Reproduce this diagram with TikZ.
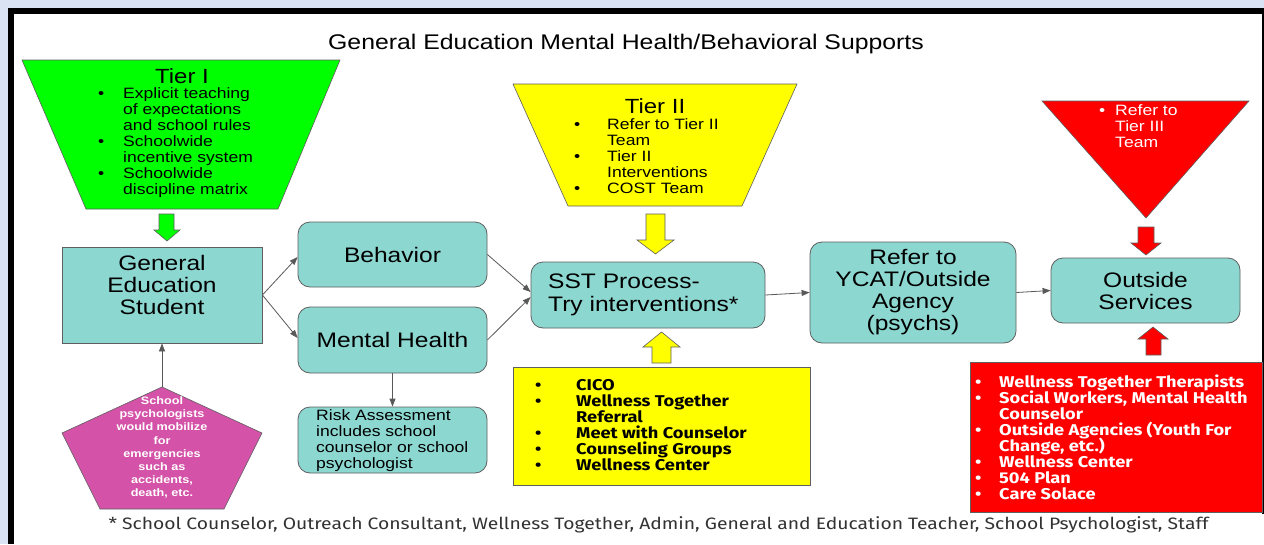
\documentclass[tikz,border=0pt]{standalone}
\usepackage{fontspec}
\setmainfont{Liberation Sans}[FakeStretch=1.17]
\newfontfamily\fira{Fira Sans}[FakeStretch=1.17]
\usetikzlibrary{arrows.meta}
\definecolor{bgc}{RGB}{218,227,243}
\definecolor{tealc}{RGB}{141,215,209}
\definecolor{bordc}{RGB}{95,95,95}
\definecolor{connc}{RGB}{89,89,89}
\definecolor{greenc}{RGB}{0,255,0}
\definecolor{yellowc}{RGB}{255,255,0}
\definecolor{redc}{RGB}{255,0,0}
\definecolor{magc}{RGB}{212,82,168}
\definecolor{footc}{RGB}{50,50,50}
\newcommand\bitem[2]{\makebox[#1][l]{\textbullet}#2}
\newcommand\bcont[2]{\hspace*{#1}#2}
\newcommand\tightls{\lineskiplimit=-6pt\relax}
\begin{document}
\begin{tikzpicture}[x=1pt,y=-1pt,
  box/.style={draw=bordc, line width=0.8pt, fill=tealc, rounded corners=12pt, inner sep=0pt, align=center, font=\fontsize{21}{22}\selectfont},
  big/.style={font=\fontsize{21}{22}\selectfont, inner sep=0pt},
  small/.style={font=\fontsize{15}{16}\selectfont\tightls, inner sep=0pt},
  shapeb/.style={draw=bordc, line width=0.6pt},
  conn/.style={draw=connc, line width=0.8pt, -{Triangle[length=8pt,width=6pt]}},
  lst/.style={font=\fira\bfseries\fontsize{15.6}{16}\selectfont\tightls, inner sep=0pt, align=left, anchor=west},
  listbox/.style={draw=bordc, line width=0.8pt, inner sep=0pt}
]
\useasboundingbox (0,0) rectangle (1264,544);
% frame
\fill[bgc] (0,0) rectangle (1264,544);
\fill[black] (8,8) rectangle (1264,544);
\fill[white] (14,14) rectangle (1262,544);
\fill[white] (1262,514) rectangle (1264,544);

% title
\node[big, font=\fontsize{21.2}{22}\selectfont] (title) at (626,44) {General Education Mental Health/Behavioral Supports};

% Tier I trapezoid
\draw[shapeb, fill=greenc] (22,60) -- (340,60) -- (278,209) -- (86,209) -- cycle;
\node[big, font=\fontsize{20.5}{22}\selectfont] (t1title) at (182,76) {Tier I};
\node[small, align=left, anchor=west] (t1list) at (98,143) {%
\bitem{25pt}{Explicit teaching}\\
\bcont{25pt}{of expectations}\\
\bcont{25pt}{and school rules}\\
\bitem{25pt}{Schoolwide}\\
\bcont{25pt}{incentive system}\\
\bitem{25pt}{Schoolwide}\\
\bcont{25pt}{discipline matrix}};

% green arrow
\draw[shapeb, fill=greenc] (159,214) -- (174,214) -- (174,230) -- (180,230) -- (167,241) -- (154,230) -- (159,230) -- cycle;

% General Education Student
\node[box, rounded corners=0pt, minimum width=200pt, minimum height=96pt] (ges) at (162,295) {};
\node[big, align=center] (gest) at (162,284.5) {General\\Education\\Student};

% pentagon
\draw[shapeb, fill=magc] (162,387) -- (262,433) -- (224,509) -- (100,509) -- (62,433) -- cycle;
\coordinate (pent) at (162,387);
\node[inner sep=0pt, align=center, text=white, font=\bfseries\fontsize{10.8}{13.1}\selectfont] (pentt) at (162,447.5)
 {School\\psychologists\\would mobilize\\for\\emergencies\\such as\\accidents,\\death, etc.};

% Behavior / Mental Health / Risk
\node[box, minimum width=189pt, minimum height=65pt] (beh) at (392.5,254.5) {Behavior};
\node[box, minimum width=189pt, minimum height=66pt] (mh) at (392.5,340) {Mental Health};
\node[box, minimum width=189pt, minimum height=66pt] (risk) at (392.5,440) {};
\node[small, align=left, anchor=west] (riskt) at (316,440.5) {Risk Assessment\\includes school\\counselor or school\\psychologist};

% Tier II trapezoid
\draw[shapeb, fill=yellowc] (513,84) -- (797,84) -- (742,206) -- (568,206) -- cycle;
\node[big, font=\fontsize{20.5}{22}\selectfont] (t2title) at (655,106) {Tier II};
\node[small, align=left, anchor=west] (t2list) at (574,156.5) {%
\bitem{33pt}{Refer to Tier II}\\
\bcont{33pt}{Team}\\
\bitem{33pt}{Tier II}\\
\bcont{33pt}{Interventions}\\
\bitem{33pt}{COST Team}};

% yellow arrows
\draw[shapeb, fill=yellowc] (646,214) -- (665,214) -- (665,240) -- (674,240) -- (655.5,254) -- (637,240) -- (646,240) -- cycle;
\draw[shapeb, fill=yellowc] (652,363) -- (671,363) -- (671,347) -- (680,347) -- (661.5,332) -- (643,347) -- (652,347) -- cycle;

% SST
\node[box, minimum width=234pt, minimum height=66pt] (sst) at (648,295) {};
\node[big, align=left, anchor=west, font=\fontsize{21}{23}\selectfont] (sstt) at (548,295) {SST Process-\\Try interventions*};

% yellow list
\node[listbox, fill=yellowc, minimum width=297pt, minimum height=118pt] (ylist) at (661.5,426) {};
\node[lst] (ylistt) at (535,425.5) {%
\bitem{41pt}{CICO}\\
\bitem{41pt}{Wellness Together}\\
\bcont{41pt}{Referral}\\
\bitem{41pt}{Meet with Counselor}\\
\bitem{41pt}{Counseling Groups}\\
\bitem{41pt}{Wellness Center}};

% YCAT
\node[box, minimum width=206pt, minimum height=101pt] (ycat) at (913,292.5) {Refer to\\YCAT/Outside\\Agency\\(psychs)};

% Tier III triangle
\draw[shapeb, fill=redc] (1042,101) -- (1249,101) -- (1146,218) -- cycle;
\node[small, align=left, anchor=west, text=white] (t3list) at (1099,126.5) {%
\bitem{16pt}{Refer to}\\
\bcont{16pt}{Tier III}\\
\bcont{16pt}{Team}};

% red arrows
\draw[shapeb, fill=redc] (1138,227) -- (1154,227) -- (1154,243) -- (1161,243) -- (1146,255) -- (1131,243) -- (1138,243) -- cycle;
\draw[shapeb, fill=redc] (1146,355) -- (1161,355) -- (1161,339) -- (1168,339) -- (1153,327) -- (1138,339) -- (1146,339) -- cycle;

% Outside services
\node[box, minimum width=189pt, minimum height=65pt] (out) at (1145.5,290.5) {Outside\\Services};

% red list
\node[listbox, fill=redc, minimum width=292pt, minimum height=150pt] (rlist) at (1116,437) {};
\node[lst, text=white] (rlistt) at (975,437.5) {%
\bitem{24pt}{Wellness Together Therapists}\\
\bitem{24pt}{Social Workers, Mental Health}\\
\bcont{24pt}{Counselor}\\
\bitem{24pt}{Outside Agencies (Youth For}\\
\bcont{24pt}{Change, etc.)}\\
\bitem{24pt}{Wellness Center}\\
\bitem{24pt}{504 Plan}\\
\bitem{24pt}{Care Solace}};

% connectors
\draw[conn] (pent) -- (ges.south);
\draw[conn] (ges.east) -- ([yshift=-2.5pt]beh.west);
\draw[conn] (ges.east) -- ([yshift=2pt]mh.west);
\draw[conn] (beh.east) -- ([yshift=3pt]sst.west);
\draw[conn] (mh.east) -- ([yshift=-2pt]sst.west);
\draw[conn] (mh.south) -- (risk.north);
\draw[conn] (sst.east) -- (ycat.west);
\draw[conn] (ycat.east) -- (out.west);

% footnote
\node[inner sep=0pt, text=footc, font=\fira\fontsize{16.5}{17}\selectfont] (foot) at (658.5,525)
 {* School Counselor, Outreach Consultant, Wellness Together, Admin, General and Education Teacher, School Psychologist, Staff};
\end{tikzpicture}
\end{document}
